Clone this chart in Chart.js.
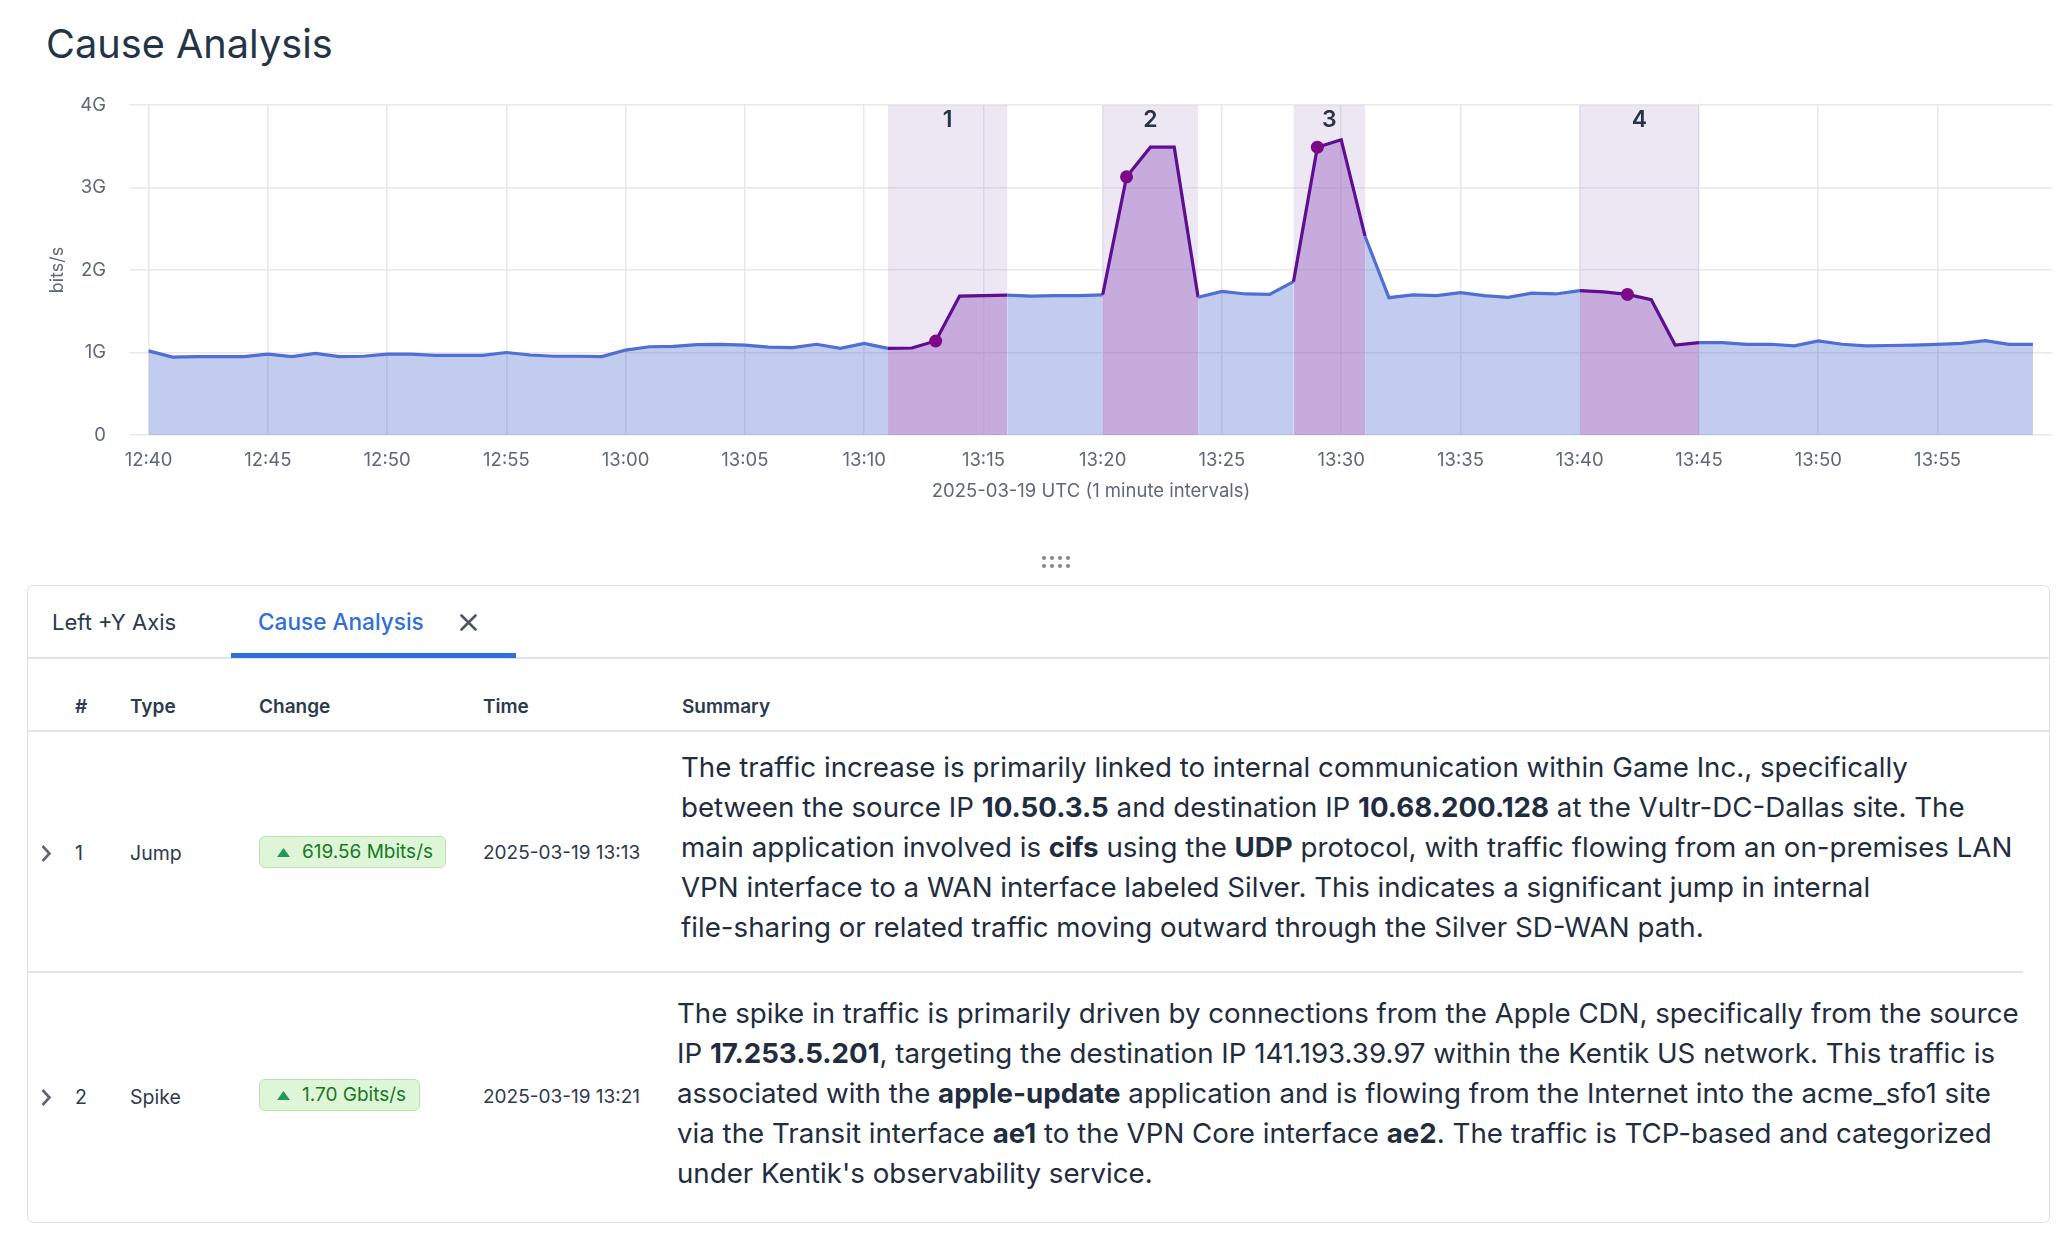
<!DOCTYPE html>
<html>
<head>
<meta charset="utf-8">
<title>Cause Analysis</title>
<script src="https://cdn.jsdelivr.net/npm/chart.js@4.4.1/dist/chart.umd.min.js"></script>
<style>
  html, body { margin: 0; padding: 0; background: #fff; }
  body { width: 2071px; height: 1256px; position: relative; overflow: hidden;
         font-family: Inter, "Noto Sans", sans-serif; color: #2c3a4d; }
  .abs { position: absolute; white-space: nowrap; }
  #title { left: 46px; top: 20px; font-size: 39.7px; line-height: 48px; color: #243447; }
  #chartBox { position: absolute; left: 0; top: 70px; width: 2071px; height: 440px; }
  #panel { position: absolute; left: 27px; top: 585px; width: 2023px; height: 638px;
           border: 1.5px solid #dde0e4; border-radius: 6px; box-sizing: border-box; }
  .rule { position: absolute; height: 1.5px; background: #e0e3e7; }
  .tab { font-size: 22px; line-height: 30px; top: 607px; }
  .th { font-size: 19px; font-weight: 600; line-height: 26px; top: 694px; color: #2c3a4d; }
  .td { font-size: 19.5px; line-height: 26px; color: #2c3a4d; }
  .badge { position: absolute; left: 259px; height: 32px; box-sizing: border-box;
           background: #dff5d8; border: 1px solid #b9e2ad; border-radius: 6px; }
  .badge svg { position: absolute; left: 17px; top: 11px; }
  .badge span { position: absolute; left: 42px; top: 2px; font-size: 19px; line-height: 26px; color: #16791f; white-space: nowrap; }
  .summary { font-size: 27.7px; line-height: 40px; color: #1f2d3f; }
  .summary div { white-space: nowrap; }
  .summary b { font-weight: 700; }
</style>
</head>
<body>

<div id="title" class="abs">Cause Analysis</div>
<div id="chartBox"><canvas id="trafficChart"></canvas></div>

<!-- drag handle -->
<svg class="abs" style="left:1040px; top:554px;" width="32" height="16">
  <g fill="#888">
    <circle cx="4" cy="4" r="2.1"/><circle cx="12" cy="4" r="2.1"/><circle cx="20" cy="4" r="2.1"/><circle cx="28" cy="4" r="2.1"/>
    <circle cx="4" cy="12" r="2.1"/><circle cx="12" cy="12" r="2.1"/><circle cx="20" cy="12" r="2.1"/><circle cx="28" cy="12" r="2.1"/>
  </g>
</svg>

<div id="panel"></div>
<div class="rule" style="left:28px; width:2021px; top:657px;"></div>
<div class="abs" style="left:231px; top:653px; width:285px; height:5px; background:#2f6fd7;"></div>
<div class="rule" style="left:28px; width:2021px; top:730px;"></div>
<div class="rule" style="left:28px; width:1995px; top:971px;"></div>

<!-- tabs -->
<div class="abs tab" style="left:52px; color:#2c3a4d;">Left +Y Axis</div>
<div class="abs tab" style="left:258px; color:#2f6fd7; font-weight:500; font-size:22.6px;">Cause Analysis</div>
<svg class="abs" style="left:460px; top:614px;" width="17" height="17">
  <path d="M1.5 1.5 L15.5 15.5 M15.5 1.5 L1.5 15.5" stroke="#4d5665" stroke-width="2.6" stroke-linecap="round"/>
</svg>

<!-- table header -->
<div class="abs th" style="left:75px;">#</div>
<div class="abs th" style="left:130px;">Type</div>
<div class="abs th" style="left:259px;">Change</div>
<div class="abs th" style="left:483px;">Time</div>
<div class="abs th" style="left:682px;">Summary</div>

<!-- row 1 -->
<svg class="abs" style="left:40px; top:844px;" width="13" height="19">
  <polyline points="2.5,2 9.5,9.5 2.5,17" fill="none" stroke="#5c6677" stroke-width="2.6"/>
</svg>
<div class="abs td" style="left:75px; top:840px;">1</div>
<div class="abs td" style="left:130px; top:840px;">Jump</div>
<div class="badge" style="top:836px; width:187px;">
  <svg width="13" height="9"><polygon points="6.5,0 13,9 0,9" fill="#1f9a5c"/></svg>
  <span>619.56 Mbits/s</span>
</div>
<div class="abs td" style="left:483px; top:840px; font-size:19px;">2025-03-19 13:13</div>
<div class="abs summary" style="left:681px; top:747px;">
  <div>The traffic increase is primarily linked to internal communication within Game Inc., specifically</div>
  <div>between the source IP <b>10.50.3.5</b> and destination IP <b>10.68.200.128</b> at the Vultr-DC-Dallas site. The</div>
  <div>main application involved is <b>cifs</b> using the <b>UDP</b> protocol, with traffic flowing from an on-premises LAN</div>
  <div>VPN interface to a WAN interface labeled Silver. This indicates a significant jump in internal</div>
  <div>file-sharing or related traffic moving outward through the Silver SD-WAN path.</div>
</div>

<!-- row 2 -->
<svg class="abs" style="left:40px; top:1088px;" width="13" height="19">
  <polyline points="2.5,2 9.5,9.5 2.5,17" fill="none" stroke="#5c6677" stroke-width="2.6"/>
</svg>
<div class="abs td" style="left:75px; top:1084px;">2</div>
<div class="abs td" style="left:130px; top:1084px;">Spike</div>
<div class="badge" style="top:1079px; width:161px;">
  <svg width="13" height="9"><polygon points="6.5,0 13,9 0,9" fill="#1f9a5c"/></svg>
  <span>1.70 Gbits/s</span>
</div>
<div class="abs td" style="left:483px; top:1084px; font-size:19px;">2025-03-19 13:21</div>
<div class="abs summary" style="left:677px; top:993px;">
  <div>The spike in traffic is primarily driven by connections from the Apple CDN, specifically from the source</div>
  <div>IP <b>17.253.5.201</b>, targeting the destination IP 141.193.39.97 within the Kentik US network. This traffic is</div>
  <div>associated with the <b>apple-update</b> application and is flowing from the Internet into the acme_sfo1 site</div>
  <div>via the Transit interface <b>ae1</b> to the VPN Core interface <b>ae2</b>. The traffic is TCP-based and categorized</div>
  <div>under Kentik's observability service.</div>
</div>

<script>
// 1. DATA  (traffic in Gbit/s, one point per minute)
const times = [
  '12:40','12:41','12:42','12:43','12:44','12:45','12:46','12:47','12:48','12:49',
  '12:50','12:51','12:52','12:53','12:54','12:55','12:56','12:57','12:58','12:59',
  '13:00','13:01','13:02','13:03','13:04','13:05','13:06','13:07','13:08','13:09',
  '13:10','13:11','13:12','13:13','13:14','13:15','13:16','13:17','13:18','13:19',
  '13:20','13:21','13:22','13:23','13:24','13:25','13:26','13:27','13:28','13:29',
  '13:30','13:31','13:32','13:33','13:34','13:35','13:36','13:37','13:38','13:39',
  '13:40','13:41','13:42','13:43','13:44','13:45','13:46','13:47','13:48','13:49',
  '13:50','13:51','13:52','13:53','13:54','13:55','13:56','13:57','13:58','13:59'
];
const traffic = [
  1.02, 0.945, 0.95, 0.95, 0.95, 0.98, 0.95, 0.99, 0.95, 0.955,
  0.98, 0.98, 0.965, 0.965, 0.965, 1.00, 0.97, 0.955, 0.955, 0.95,
  1.03, 1.07, 1.075, 1.095, 1.10, 1.09, 1.065, 1.06, 1.10, 1.05,
  1.11, 1.05, 1.055, 1.14, 1.685, 1.69, 1.695, 1.685, 1.69, 1.69,
  1.70, 3.13, 3.49, 3.49, 1.67, 1.74, 1.71, 1.705, 1.86, 3.49,
  3.58, 2.41, 1.665, 1.70, 1.69, 1.725, 1.69, 1.67, 1.72, 1.71,
  1.75, 1.735, 1.705, 1.64, 1.09, 1.12, 1.12, 1.10, 1.10, 1.08,
  1.14, 1.10, 1.08, 1.085, 1.09, 1.10, 1.11, 1.145, 1.10, 1.10
];
const xTickLabels = ['12:40','12:45','12:50','12:55','13:00','13:05','13:10','13:15',
                     '13:20','13:25','13:30','13:35','13:40','13:45','13:50','13:55'];
const yTicks = [0, 1, 2, 3, 4];

// cause analysis windows and detected events
const bandNames  = ['1', '2', '3', '4'];
const bandStarts = ['13:11', '13:20', '13:28', '13:40'];
const bandEnds   = ['13:16', '13:24', '13:31', '13:45'];
const eventTimes = ['13:13', '13:21', '13:29', '13:42'];

// 2. STYLE
const blueLine   = '#4f6fd4';
const blueFill   = 'rgba(80, 108, 205, 0.35)';
const purpleLine = '#5c0f90';
const purpleFill = 'rgba(150, 88, 190, 0.42)';
const bandFill   = 'rgba(150, 110, 190, 0.17)';
const dotColor   = '#7c0a87';
const tickColor  = '#5f6878';
const gridColor  = '#e7e8eb';

const eventIdx = eventTimes.map(t => times.indexOf(t));

function inBand(i0, i1) {
  return bandStarts.some((s, b) => times.indexOf(s) <= i0 && i1 <= times.indexOf(bandEnds[b]));
}

// 3. BAND PLUGIN  (shaded windows + numbers on top)
const bandPlugin = {
  id: 'causeBands',
  beforeDatasetsDraw(chart) {
    const { ctx, chartArea: a, scales: { x } } = chart;
    ctx.save();
    ctx.fillStyle = bandFill;
    bandStarts.forEach((s, b) => {
      const x0 = x.getPixelForValue(times.indexOf(s));
      const x1 = x.getPixelForValue(times.indexOf(bandEnds[b]));
      ctx.fillRect(x0, a.top, x1 - x0, a.bottom - a.top);
    });
    ctx.restore();
  },
  afterDatasetsDraw(chart) {
    const { ctx, chartArea: a, scales: { x } } = chart;
    ctx.save();
    ctx.fillStyle = '#25344a';
    ctx.font = '600 23px Inter';
    ctx.textAlign = 'center';
    ctx.textBaseline = 'middle';
    bandStarts.forEach((s, b) => {
      const mid = (times.indexOf(s) + times.indexOf(bandEnds[b])) / 2;
      ctx.fillText(bandNames[b], x.getPixelForValue(mid), a.top + 15);
    });
    ctx.restore();
  }
};

Chart.defaults.font.family = 'Inter';

new Chart(document.getElementById('trafficChart'), {
  type: 'line',
  data: {
    datasets: [{
      data: traffic.map((v, i) => ({ x: i, y: v })),
      borderColor: blueLine,
      backgroundColor: blueFill,
      borderWidth: 3.2,
      fill: 'origin',
      tension: 0,
      pointRadius: ctx => eventIdx.includes(ctx.dataIndex) ? 6.5 : 0,
      pointHoverRadius: 0,
      pointBackgroundColor: dotColor,
      pointBorderWidth: 0,
      segment: {
        borderColor: ctx => inBand(ctx.p0DataIndex, ctx.p1DataIndex) ? purpleLine : undefined,
        backgroundColor: ctx => inBand(ctx.p0DataIndex, ctx.p1DataIndex) ? purpleFill : undefined
      }
    }]
  },
  options: {
    responsive: true,
    maintainAspectRatio: false,
    animation: false,
    layout: { padding: { top: 27, right: 19, left: 0, bottom: 0 } },
    plugins: { legend: { display: false }, tooltip: { enabled: false } },
    scales: {
      x: {
        type: 'linear',
        min: -0.78,
        max: 79.8,
        afterBuildTicks: s => { s.ticks = xTickLabels.map(l => ({ value: times.indexOf(l) })); },
        afterFit: s => { s.height = 75; },
        grid: { color: gridColor, lineWidth: 1.5, drawTicks: false },
        border: { display: false },
        ticks: { padding: 14, color: tickColor, font: { size: 18.5 }, maxRotation: 0, autoSkip: false,
                 callback: v => times[v] },
        title: { display: true, text: '2025-03-19 UTC (1 minute intervals)', color: tickColor,
                 font: { size: 18.5 }, padding: { top: 0, bottom: 7 } }
      },
      y: {
        min: 0,
        max: 4,
        afterBuildTicks: s => { s.ticks = yTicks.map(v => ({ value: v })); },
        afterFit: s => { s.width = 130; },
        grid: { color: gridColor, lineWidth: 1.5, drawTicks: false },
        border: { display: false },
        ticks: { padding: 24, color: tickColor, font: { size: 18.5 },
                 callback: v => v === 0 ? '0' : v + 'G' },
        title: { display: true, text: 'bits/s', color: tickColor, font: { size: 18 },
                 padding: { top: 47, bottom: 0 } }
      }
    }
  },
  plugins: [bandPlugin]
});
</script>
</body>
</html>
